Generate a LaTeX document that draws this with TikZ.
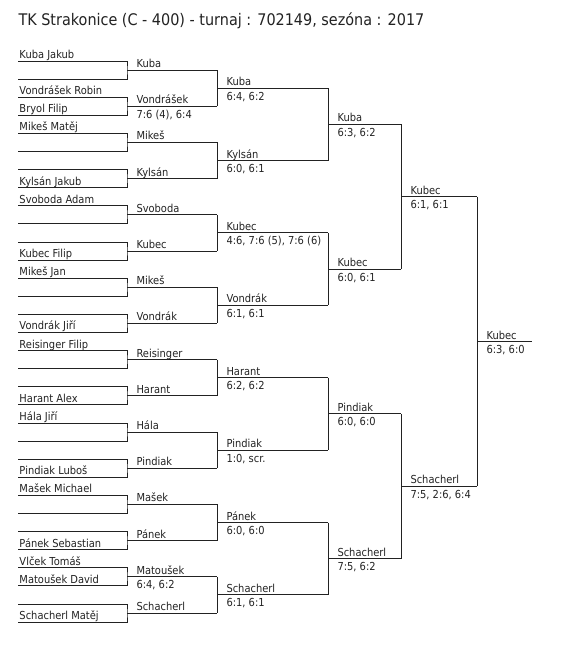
\documentclass[tikz,border=0pt]{standalone}
\usepackage{fontspec}
\setmainfont[FakeStretch=0.9]{DejaVu Sans}
\usetikzlibrary{calc}
\definecolor{drawgray}{RGB}{34,34,34}

\begin{document}
\begin{tikzpicture}[x=1pt,y=-1pt,line width=1pt,drawgray,
    every node/.style={font=\fontsize{11}{13}\selectfont,inner sep=0pt,anchor=base west,text=drawgray},
    player/.style={xshift=1pt,yshift=2.5pt},
    winner/.style={xshift=9pt,yshift=2.5pt},
    score/.style={xshift=9pt,yshift=-12pt}]
  \useasboundingbox (0,0) rectangle (584,648);
  \node[font=\fontsize{16}{19}\selectfont] (title) at (18,25) {TK Strakonice (C - 400) - turnaj : 702149, sezóna : 2017};

  % first round pairs
  \foreach \k in {0,...,15}{
    \pgfmathsetmacro\m{70+36.2*\k}
    \coordinate (p\k-a) at (18,\m-9);
    \coordinate (p\k-b) at (18,\m+9);
    \coordinate (m1-\k) at (127,\m);
    \draw (p\k-a) -| (m1-\k) |- (p\k-b);
    \draw (m1-\k) -- ++(90,0) coordinate (e1-\k);
  }
  % later rounds
  \foreach \r/\n/\w in {2/7/111,3/3/73,4/1/76,5/0/55}{
    \pgfmathtruncatemacro\q{\r-1}
    \foreach \j in {0,...,\n}{
      \pgfmathtruncatemacro\a{2*\j}
      \pgfmathtruncatemacro\b{2*\j+1}
      \draw (e\q-\a) -- (e\q-\b);
      \coordinate (m\r-\j) at ($(e\q-\a)!.5!(e\q-\b)$);
      \draw (m\r-\j) -- ++(\w,0) coordinate (e\r-\j);
    }
  }

  \foreach \c/\t in {p0-a/Kuba Jakub, p1-a/Vondrášek Robin, p1-b/Bryol Filip,
      p2-a/Mikeš Matěj, p3-b/Kylsán Jakub, p4-a/Svoboda Adam, p5-b/Kubec Filip,
      p6-a/Mikeš Jan, p7-b/Vondrák Jiří, p8-a/Reisinger Filip, p9-b/Harant Alex,
      p10-a/Hála Jiří, p11-b/Pindiak Luboš, p12-a/Mašek Michael,
      p13-b/Pánek Sebastian, p14-a/Vlček Tomáš, p14-b/Matoušek David,
      p15-b/Schacherl Matěj}
    \node[player] (n-\c) at (\c) {\t};

  \foreach \c/\t in {m1-0/Kuba, m1-1/Vondrášek, m1-2/Mikeš, m1-3/Kylsán,
      m1-4/Svoboda, m1-5/Kubec, m1-6/Mikeš, m1-7/Vondrák, m1-8/Reisinger,
      m1-9/Harant, m1-10/Hála, m1-11/Pindiak, m1-12/Mašek, m1-13/Pánek,
      m1-14/Matoušek, m1-15/Schacherl,
      m2-0/Kuba, m2-1/Kylsán, m2-2/Kubec, m2-3/Vondrák, m2-4/Harant,
      m2-5/Pindiak, m2-6/Pánek, m2-7/Schacherl,
      m3-0/Kuba, m3-1/Kubec, m3-2/Pindiak, m3-3/Schacherl,
      m4-0/Kubec, m4-1/Schacherl, m5-0/Kubec}
    \node[winner] (w-\c) at (\c) {\t};

  \foreach \c/\t in {{m1-1/7:6 (4), 6:4}, {m1-14/6:4, 6:2},
      {m2-0/6:4, 6:2}, {m2-1/6:0, 6:1}, {m2-2/4:6, 7:6 (5), 7:6 (6)},
      {m2-3/6:1, 6:1}, {m2-4/6:2, 6:2}, {m2-5/1:0, scr.}, {m2-6/6:0, 6:0},
      {m2-7/6:1, 6:1}, {m3-0/6:3, 6:2}, {m3-1/6:0, 6:1}, {m3-2/6:0, 6:0},
      {m3-3/7:5, 6:2}, {m4-0/6:1, 6:1}, {m4-1/7:5, 2:6, 6:4}, {m5-0/6:3, 6:0}}
    \node[score] (s-\c) at (\c) {\t};
\end{tikzpicture}
\end{document}
